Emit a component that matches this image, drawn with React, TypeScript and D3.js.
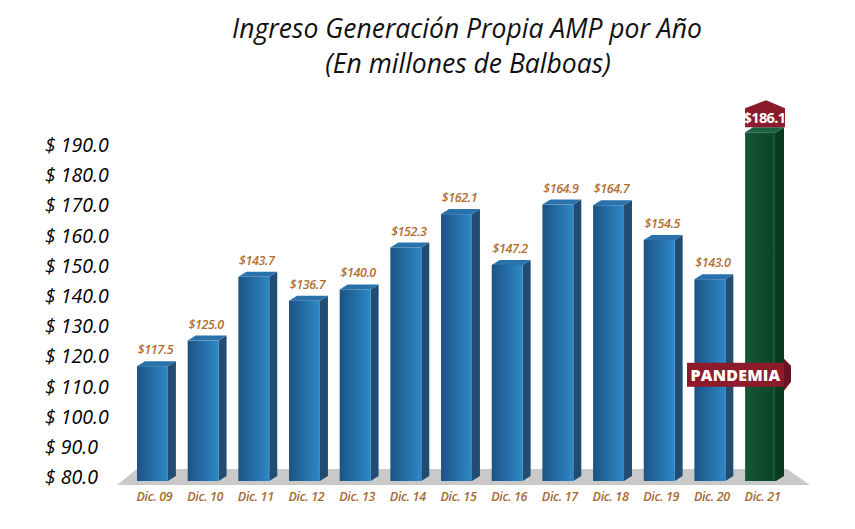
import * as d3 from 'd3';

const categories = ['Dic. 09', 'Dic. 10', 'Dic. 11', 'Dic. 12', 'Dic. 13', 'Dic. 14', 'Dic. 15', 'Dic. 16', 'Dic. 17', 'Dic. 18', 'Dic. 19', 'Dic. 20', 'Dic. 21'];
const ingresos = [117.5, 125.0, 143.7, 136.7, 140.0, 152.3, 162.1, 147.2, 164.9, 164.7, 154.5, 143.0, 186.1];
const tickValues = [80, 90, 100, 110, 120, 130, 140, 150, 160, 170, 180, 190];
const highlighted = 'Dic. 21';
const annotation = 'PANDEMIA';

const W = 855;
const H = 529;
const depthX = 8;
const depthY = -5;
const baseY = 481;

export default function App() {
  // tick labels on the left
  const yAxis = d3.scaleLinear().domain([80, 190]).range([479, 146.7]);
  // the bars in the original are drawn a little taller than the axis text suggests
  const yBar = d3.scaleLinear().domain([80, 190]).range([494, 119]);

  const x = d3
    .scaleBand()
    .domain(categories)
    .range([137, 776])
    .paddingInner(0.39)
    .paddingOuter(0);
  const bw = x.bandwidth();
  const fmt = d3.format('.1f');

  const floorTop = 469;
  const floorBottom = 485;
  const floor = [
    [137, floorTop],
    [787, floorTop],
    [810, floorBottom],
    [117, floorBottom],
  ];

  const gx = (x(highlighted) || 0);
  const gTop = yBar(ingresos[categories.indexOf(highlighted)]);
  const pY = yAxis(114.5);

  return (
    <svg
      width={W}
      height={H}
      viewBox={`0 0 ${W} ${H}`}
      style={{ position: 'absolute', left: 0, top: 0, background: '#fff' }}
      fontFamily="'Open Sans', sans-serif"
    >
      <defs>
        <linearGradient id="blueFront" x1="0" x2="1" y1="0" y2="0">
          <stop offset="0%" stopColor="#1b5385" />
          <stop offset="100%" stopColor="#2e88c6" />
        </linearGradient>
        <linearGradient id="greenFront" x1="0" x2="1" y1="0" y2="0">
          <stop offset="0%" stopColor="#17553a" />
          <stop offset="100%" stopColor="#0b4325" />
        </linearGradient>
      </defs>

      {/* title */}
      <text x={467} y={38} textAnchor="middle" fontSize={26.5} fontStyle="italic" fontWeight={500} fill="#111">
        Ingreso Generación Propia AMP por Año
      </text>
      <text x={468} y={73} textAnchor="middle" fontSize={26.5} fontStyle="italic" fontWeight={500} fill="#111">
        (En millones de Balboas)
      </text>

      {/* y labels */}
      {tickValues.map((t) => (
        <text
          key={t}
          x={45}
          y={yAxis(t)}
          dominantBaseline="middle"
          fontSize={19.5}
          fontStyle="italic"
          fontWeight={500}
          fill="#000"
        >
          {`$ ${fmt(t)}`}
        </text>
      ))}

      {/* floor */}
      <polygon points={floor.map((p) => p.join(',')).join(' ')} fill="#c9c9c9" />

      {/* bars */}
      {categories.map((c, i) => {
        const x0 = x(c) || 0;
        const top = yBar(ingresos[i]);
        const green = c === highlighted;
        const side = green ? '#0a3a1f' : '#214d75';
        const cap = green ? '#1d6240' : '#2a72ab';
        return (
          <g key={c}>
            <polygon
              points={`${x0 + bw},${top} ${x0 + bw + depthX},${top + depthY} ${x0 + bw + depthX},${baseY + depthY} ${x0 + bw},${baseY}`}
              fill={side}
            />
            <polygon
              points={`${x0},${top} ${x0 + depthX},${top + depthY} ${x0 + bw + depthX},${top + depthY} ${x0 + bw},${top}`}
              fill={cap}
            />
            <rect x={x0} y={top} width={bw} height={baseY - top} fill={green ? 'url(#greenFront)' : 'url(#blueFront)'} />
            {green && <rect x={x0 + bw - 3} y={top} width={1.5} height={baseY - top} fill="#1f6a44" opacity={0.7} />}
            {!green && (
              <text
                x={x0 + bw / 2 + 3}
                y={top - 12}
                textAnchor="middle"
                fontSize={12.5}
                fontStyle="italic"
                fontWeight={600}
                fill="#b06d2f"
                letterSpacing={-0.4}
              >
                {`$${fmt(ingresos[i])}`}
              </text>
            )}
            <text
              x={x0 + bw / 2 + 2}
              y={501}
              textAnchor="middle"
              fontSize={12.5}
              fontStyle="italic"
              fontWeight={600}
              fill="#a8692e"
              letterSpacing={-0.3}
            >
              {c}
            </text>
          </g>
        );
      })}

      {/* badge on the highlighted bar */}
      <polygon
        points={`${gx},${gTop - 5} ${gx},${gTop - 24} ${gx + 21},${gTop - 32} ${gx + bw + depthX + 1},${gTop - 24} ${gx + bw + depthX + 1},${gTop - 5}`}
        fill="#8b1a2b"
      />
      <text
        x={gx + (bw + depthX) / 2}
        y={gTop - 9}
        textAnchor="middle"
        fontSize={14.5}
        fontWeight={700}
        fill="#fff"
        letterSpacing={-0.6}
      >
        {`$${fmt(ingresos[categories.indexOf(highlighted)])}`}
      </text>

      {/* PANDEMIA ribbon */}
      <polygon
        points={`${gx + bw + depthX},${pY - 16} ${gx + bw + depthX + 7},${pY - 9} ${gx + bw + depthX + 7},${pY + 7} ${gx + bw + depthX},${pY + 16}`}
        fill="#6a1320"
      />
      <rect x={687} y={pY - 12} width={gx + bw + depthX - 687} height={24} fill="#8e1b2c" />
      <text
        x={(687 + gx + bw + depthX) / 2}
        y={pY + 6}
        textAnchor="middle"
        fontSize={16}
        fontWeight={800}
        fill="#fff"
        letterSpacing={0.2}
      >
        {annotation}
      </text>
    </svg>
  );
}
